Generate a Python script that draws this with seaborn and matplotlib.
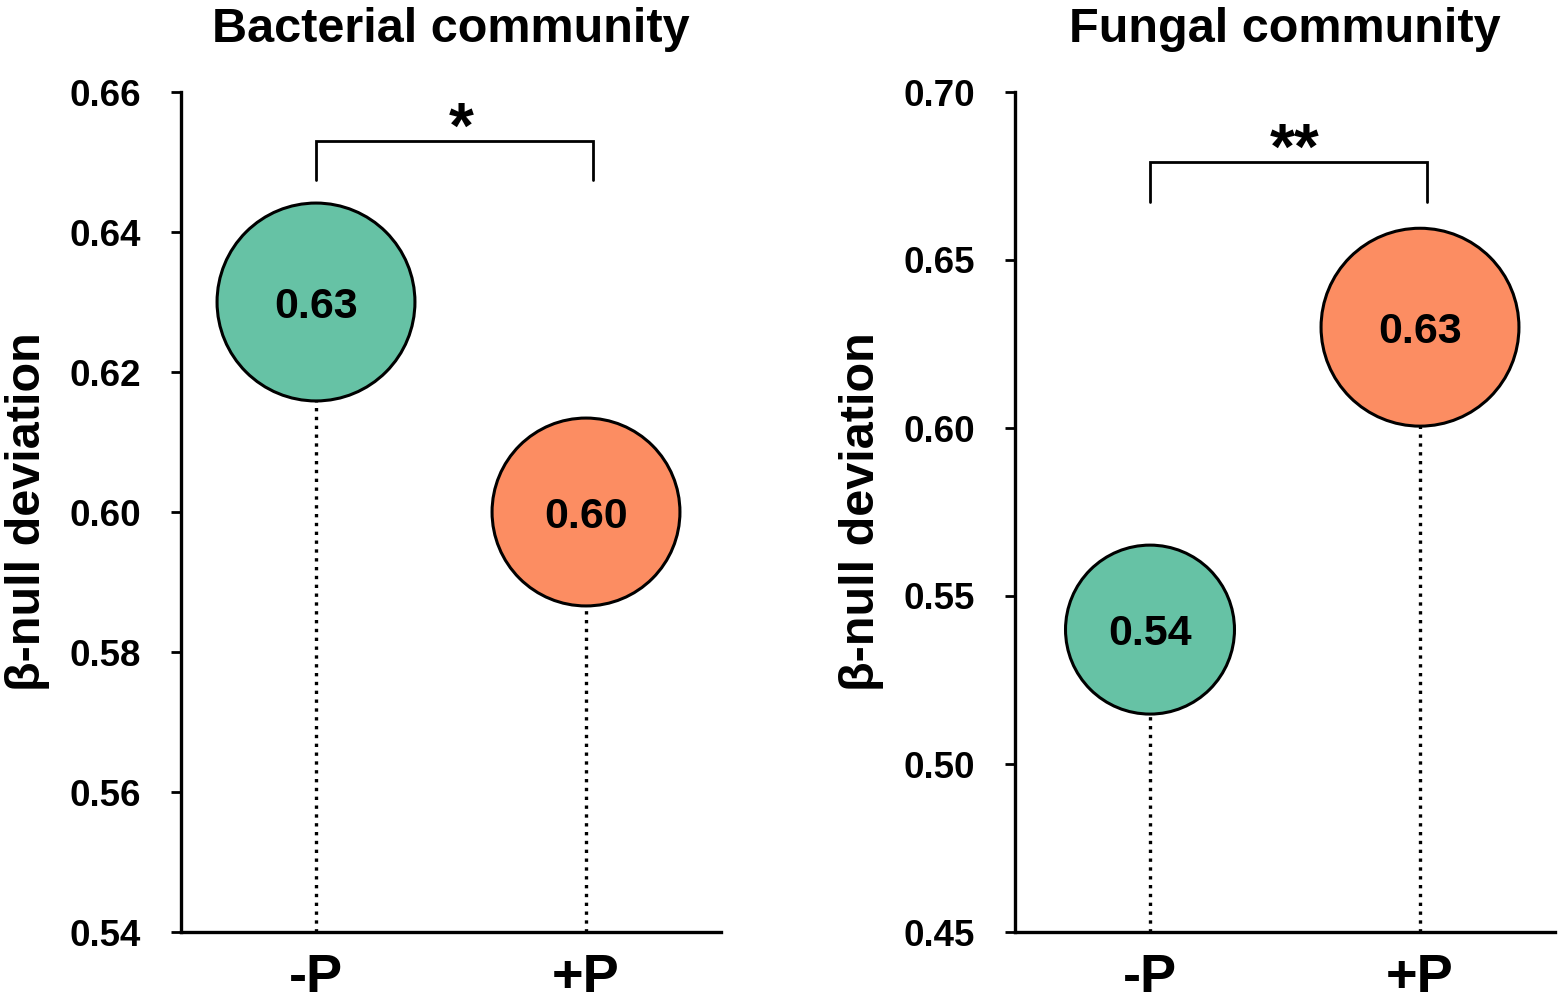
import matplotlib
matplotlib.use("Agg")
import matplotlib.pyplot as plt
import seaborn as sns
import pandas as pd

# Values
groups = ["-P", "+P"]
bacterial_values = [0.63, 0.60]
fungal_values = [0.54, 0.63]
panel_titles = ["Bacterial community", "Fungal community"]
y_label = "β-null deviation"
sig_labels = ["*", "**"]
bacterial_ticks = [0.54, 0.56, 0.58, 0.60, 0.62, 0.64, 0.66]
fungal_ticks = [0.45, 0.50, 0.55, 0.60, 0.65, 0.70]

sns.set_style("white", {"ytick.left": True, "text.color": "black",
                        "axes.labelcolor": "black", "xtick.color": "black",
                        "ytick.color": "black", "axes.edgecolor": "black"})
plt.rcParams['font.family'] = ['Liberation Sans', 'DejaVu Sans']
plt.rcParams['font.weight'] = 'bold'

palette = {"-P": "#66c2a5", "+P": "#fc8d62"}

fig = plt.figure(figsize=(15.59, 10), dpi=100)
ax_left = fig.add_axes([181 / 1559, 0.068, 540 / 1559, 0.84])
ax_right = fig.add_axes([1015 / 1559, 0.068, 540 / 1559, 0.84])

panels = [
    (ax_left, bacterial_values, bacterial_ticks, {"-P": 20300, "+P": 18300}, 0.653, 0.6474, 0.6545),
    (ax_right, fungal_values, fungal_ticks, {"-P": 14800, "+P": 20300}, 0.6792, 0.6673, 0.6821),
]

for i, (ax, values, ticks, bubble, br_y, br_leg, star_y) in enumerate(panels):
    df = pd.DataFrame({"group": groups, "value": values})
    ymin, ymax = ticks[0], ticks[-1]

    # dotted stems from the axis up to each bubble
    ax.vlines(range(len(groups)), ymin, df["value"], colors="black",
              linestyles=":", linewidth=2.4, zorder=1)

    sns.scatterplot(data=df, x="group", y="value", hue="group", palette=palette,
                    size="group", sizes=bubble, edgecolor="black", linewidth=2.2,
                    legend=False, ax=ax, zorder=2, clip_on=False)

    for j, v in enumerate(values):
        ax.text(j, v, f"{v:.2f}", ha="center", va="center_baseline",
                fontsize=31, fontweight="bold", color="black", zorder=3)

    # significance bracket
    x0, x1 = 0, 1.025
    ax.plot([x0, x0, x1, x1], [br_leg, br_y, br_y, br_leg], color="black",
            linewidth=2.0, solid_joinstyle="miter")
    ax.text((x0 + x1) / 2 + 0.025, star_y, sig_labels[i], ha="center", va="center",
            fontsize=46, fontweight="bold", color="black")

    ax.set_xlim(-0.5, 1.5)
    ax.set_ylim(ymin, ymax)
    ax.set_yticks(ticks)
    ax.set_yticklabels([f"{t:.2f}" for t in ticks])
    ax.tick_params(axis="y", left=True, length=7, width=2, pad=22, labelsize=26.5,
                   color="black", labelcolor="black")
    ax.tick_params(axis="x", length=0, pad=15, labelsize=39, labelcolor="black")
    for lab in ax.get_xticklabels() + ax.get_yticklabels():
        lab.set_fontweight("bold")

    ax.set_xlabel("")
    ax.set_ylabel(y_label, fontsize=35, fontweight="bold", labelpad=14, color="black")
    ax.set_title(panel_titles[i], fontsize=35, fontweight="bold", pad=36, color="black")

    sns.despine(ax=ax)
    for side in ["left", "bottom"]:
        ax.spines[side].set_linewidth(2.4)
        ax.spines[side].set_color("black")

fig.savefig("out.png", dpi=100)
